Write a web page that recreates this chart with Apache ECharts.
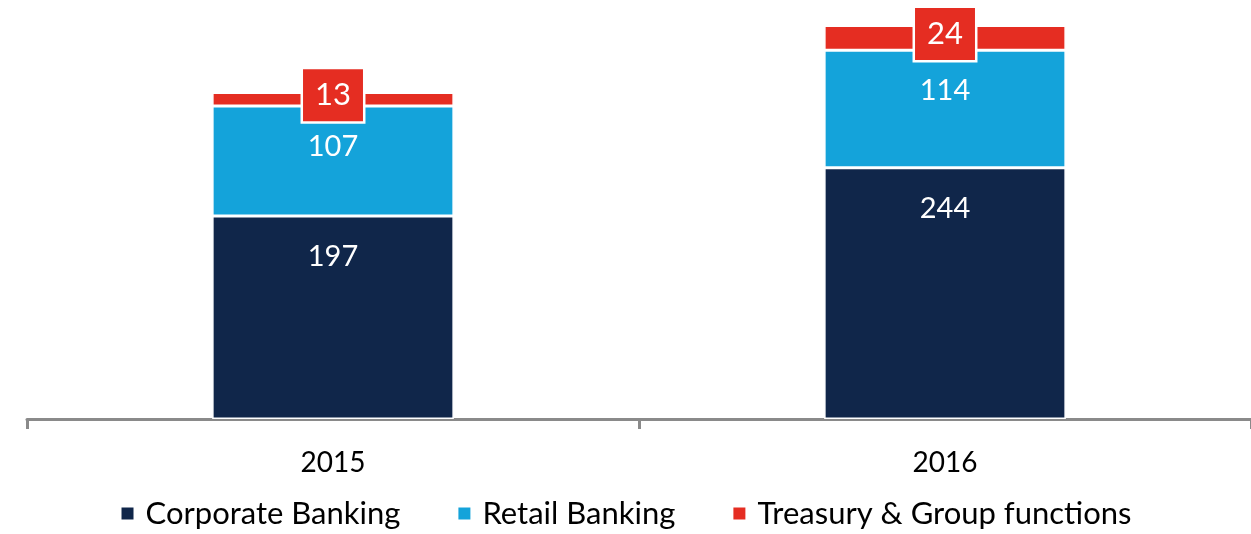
<!DOCTYPE html>
<html><head><meta charset="utf-8">
<script src="https://cdn.jsdelivr.net/npm/echarts@6/dist/echarts.min.js"></script>
<style>html,body{margin:0;padding:0;background:#fff}#c{width:1251px;height:534px}</style>
</head><body><div id="c"></div>
<script>
const categories = ['2015', '2016'];
const corporate = [197, 244];
const retail = [107, 114];
const treasury = [13, 24];
const seriesNames = ['Corporate Banking', 'Retail Banking', 'Treasury & Group functions'];

const FONT = 'Lato, "Open Sans", sans-serif';
const chart = echarts.init(document.getElementById('c'));
const inLabel = {
  show: true, position: 'insideTop', distance: 26, color: '#fff',
  fontSize: 29, fontFamily: FONT
};
chart.setOption({
  animation: false,
  textStyle: { fontFamily: FONT },
  grid: { left: 27, right: -7, top: 7, bottom: 115, containLabel: false },
  legend: {
    bottom: 0, left: 'center', icon: 'rect', itemWidth: 14, itemHeight: 14, itemGap: 56,
    textStyle: { fontSize: 31, color: '#000', fontFamily: FONT, padding: [0, 0, 0, 6] },
    data: seriesNames
  },
  xAxis: {
    type: 'category', data: categories,
    axisLine: { lineStyle: { color: '#8a8a8a', width: 3 } },
    axisTick: { show: true, length: 10, lineStyle: { color: '#8a8a8a', width: 3 } },
    axisLabel: { color: '#000', fontSize: 28, margin: 30, fontFamily: FONT }
  },
  yAxis: { type: 'value', min: 0, max: 400, show: false, splitLine: { show: false } },
  series: [
    { name: seriesNames[0], type: 'bar', stack: 't', data: corporate, barWidth: '39.5%',
      itemStyle: { color: '#10264A', borderColor: '#fff', borderWidth: 1.5 }, label: inLabel },
    { name: seriesNames[1], type: 'bar', stack: 't', data: retail,
      itemStyle: { color: '#14A3DA', borderColor: '#fff', borderWidth: 1.5 }, label: inLabel },
    { name: seriesNames[2], type: 'bar', stack: 't', data: treasury,
      itemStyle: { color: '#E52D22', borderColor: '#fff', borderWidth: 1.5 },
      label: { show: true, position: 'inside', offset: [0, -4], color: '#fff', fontSize: 31, fontFamily: FONT,
        backgroundColor: '#E52D22', borderColor: '#fff', borderWidth: 2.5,
        padding: [11, 12, 10, 12] } }
  ]
});
</script></body></html>
